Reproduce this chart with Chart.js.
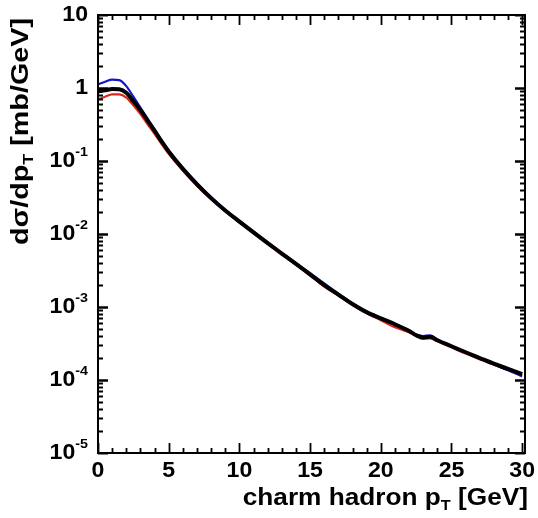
<!DOCTYPE html>
<html>
<head>
<meta charset="utf-8">
<script src="https://cdn.jsdelivr.net/npm/chart.js@4/dist/chart.umd.min.js"></script>
<style>
  html, body { margin: 0; padding: 0; background: #fff; }
  #wrap { width: 538px; height: 518px; }
</style>
</head>
<body>
<div id="wrap"><canvas id="myChart" width="538" height="518"></canvas></div>
<script>
// charm hadron pT spectrum, three curves
const pt = [0, 0.5, 1, 1.5, 2, 2.5, 3, 3.5, 4, 4.5, 5, 6, 7, 8, 9, 10, 11, 12, 13, 14, 15,
  16, 17, 18, 19, 20, 21, 22, 22.5, 23, 23.5, 24, 25, 26, 27, 28, 29, 30];

const blackCurve = [0.90, 0.93, 0.97, 0.96, 0.86, 0.66, 0.50, 0.36, 0.26, 0.185, 0.135,
  0.078, 0.048, 0.031, 0.021, 0.0148, 0.0105, 0.0075, 0.0054, 0.0039, 0.0028,
  0.0020, 0.00148, 0.00110, 0.00085, 0.00070, 0.00058, 0.00047, 0.00041, 0.00038, 0.00039,
  0.00035, 0.00029, 0.00024, 0.00020, 0.000167, 0.000142, 0.000120];

const blueCurve = [1.12, 1.22, 1.30, 1.28, 1.06, 0.76, 0.54, 0.38, 0.27, 0.19, 0.14,
  0.081, 0.050, 0.032, 0.0215, 0.0152, 0.0108, 0.0077, 0.0055, 0.0040, 0.0029,
  0.0021, 0.00152, 0.00112, 0.00086, 0.00071, 0.00059, 0.00048, 0.00042, 0.00040, 0.00041,
  0.00036, 0.00029, 0.00024, 0.000198, 0.000163, 0.000136, 0.000112];

const redCurve = [0.70, 0.76, 0.82, 0.82, 0.74, 0.58, 0.44, 0.32, 0.235, 0.17, 0.125,
  0.074, 0.046, 0.030, 0.0205, 0.0144, 0.0102, 0.0073, 0.0052, 0.0038, 0.0027,
  0.0019, 0.00143, 0.00106, 0.00082, 0.00066, 0.00053, 0.00045, 0.00040, 0.00037, 0.00037,
  0.00034, 0.00028, 0.00023, 0.000193, 0.000162, 0.000138, 0.000118];

const xTicks = [0, 5, 10, 15, 20, 25, 30];
const yTicks = [10, 1, 0.1, 0.01, 0.001, 0.0001, 0.00001];
const yTickLabels = [['10', ''], ['1', ''], ['10', '-1'], ['10', '-2'], ['10', '-3'], ['10', '-4'], ['10', '-5']];

const FONT = '"Liberation Sans", Arial, Helvetica, sans-serif';

function pts(ys) {
  return pt.map((x, i) => ({ x: x, y: ys[i] }));
}

// text runs with optional sup / sub pieces, hs = horizontal stretch
function richText(ctx, runs, x, y, align, size, hs) {
  hs = hs || 1;
  let w = 0;
  runs.forEach(r => {
    ctx.font = 'bold ' + (r.mode ? size * 0.62 : size) + 'px ' + FONT;
    w += ctx.measureText(r.t).width * hs;
  });
  let cx = align === 'right' ? x - w : (align === 'center' ? x - w / 2 : x);
  ctx.textAlign = 'left';
  ctx.textBaseline = 'middle';
  runs.forEach(r => {
    const s = r.mode ? size * 0.62 : size;
    ctx.font = 'bold ' + s + 'px ' + FONT;
    let dy = 0;
    if (r.mode === 'sup') dy = -size * 0.42;
    if (r.mode === 'sub') dy = size * 0.30;
    ctx.save();
    ctx.translate(cx, y + dy);
    ctx.scale(hs, 1);
    ctx.fillText(r.t, 0, 0);
    ctx.restore();
    cx += ctx.measureText(r.t).width * hs;
  });
  return w;
}

const framePlugin = {
  id: 'frame',
  afterDraw(chart) {
    const ctx = chart.ctx;
    const xs = chart.scales.x, ys = chart.scales.y;
    const a = chart.chartArea;
    ctx.save();
    ctx.strokeStyle = '#000';
    ctx.fillStyle = '#000';
    ctx.lineWidth = 2;
    ctx.strokeRect(a.left, a.top, a.right - a.left, a.bottom - a.top);

    // x ticks, inward on bottom and top
    ctx.lineWidth = 1.8;
    for (let v = 0; v <= 30; v++) {
      const px = Math.round(xs.getPixelForValue(v)) + 0.5;
      const len = v % 5 === 0 ? 10 : 5;
      ctx.beginPath();
      ctx.moveTo(px, a.bottom); ctx.lineTo(px, a.bottom - len);
      ctx.moveTo(px, a.top); ctx.lineTo(px, a.top + len);
      ctx.stroke();
    }
    // y ticks, log decades
    for (let d = -5; d <= 0; d++) {
      for (let k = 1; k <= 10; k++) {
        const v = k * Math.pow(10, d);
        const py = Math.round(ys.getPixelForValue(v)) + 0.5;
        const len = (k === 1 || k === 10) ? 10 : 5;
        ctx.beginPath();
        ctx.moveTo(a.left, py); ctx.lineTo(a.left + len, py);
        ctx.moveTo(a.right, py); ctx.lineTo(a.right - len, py);
        ctx.stroke();
      }
    }

    // tick labels
    xTicks.forEach(v => {
      richText(ctx, [{ t: String(v) }], xs.getPixelForValue(v), a.bottom + 18, 'center', 22, 1.05);
    });
    yTicks.forEach((v, i) => {
      const lab = yTickLabels[i];
      const runs = [{ t: lab[0] }];
      if (lab[1]) runs.push({ t: lab[1], mode: 'sup' });
      richText(ctx, runs, a.left - 10, ys.getPixelForValue(v), 'right', 22, 1.05);
    });

    // axis titles
    richText(ctx, [{ t: 'charm hadron p' }, { t: 'T', mode: 'sub' }, { t: ' [GeV]' }],
      528, 499, 'right', 23, 1.14);
    ctx.translate(22, 18);
    ctx.rotate(-Math.PI / 2);
    richText(ctx, [{ t: 'd\u03c3/dp' }, { t: 'T', mode: 'sub' }, { t: ' [mb/GeV]' }],
      0, 0, 'right', 23, 1.25);
    ctx.restore();
  }
};

const config = {
  type: 'line',
  data: {
    datasets: [
      { label: 'black', data: pts(blackCurve), borderColor: '#000', borderWidth: 4 },
      { label: 'blue', data: pts(blueCurve), borderColor: '#1414c8', borderWidth: 2.2 },
      { label: 'red', data: pts(redCurve), borderColor: '#e0261c', borderWidth: 2.2 }
    ]
  },
  options: {
    responsive: false,
    animation: false,
    layout: { padding: { left: 98, top: 15, right: 13, bottom: 65 } },
    elements: {
      point: { radius: 0 },
      line: { cubicInterpolationMode: 'monotone', fill: false }
    },
    plugins: { legend: { display: false }, tooltip: { enabled: false } },
    scales: {
      x: { type: 'linear', min: 0, max: 30.2, display: false },
      y: { type: 'logarithmic', min: 1e-5, max: 10, display: false }
    }
  },
  plugins: [framePlugin]
};

const myChart = new Chart(document.getElementById('myChart'), config);
</script>
</body>
</html>
